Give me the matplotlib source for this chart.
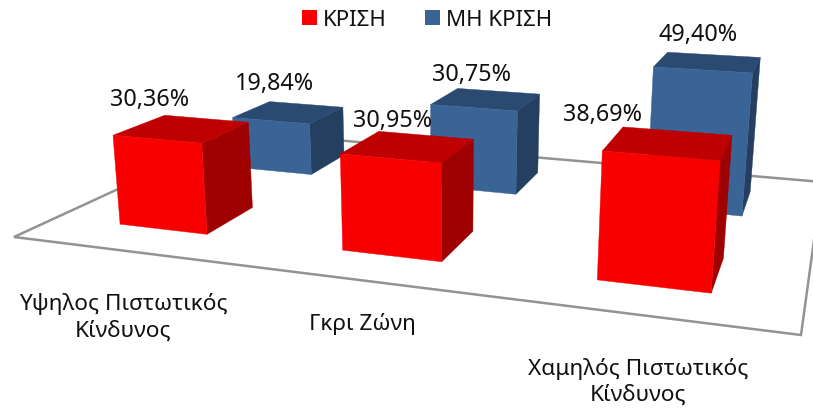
import numpy as np
import matplotlib
matplotlib.use("Agg")
import matplotlib.pyplot as plt
from matplotlib.patches import Patch, Polygon

plt.rcParams["font.family"] = ["Noto Sans", "DejaVu Sans"]

# Data
categories = ["Υψηλος Πιστωτικός\nΚίνδυνος", "Γκρι Ζώνη", "Χαμηλός Πιστωτικός\nΚίνδυνος"]
series_names = ["ΚΡΙΣΗ", "ΜΗ ΚΡΙΣΗ"]
krisi = [30.36, 30.95, 38.69]
mi_krisi = [19.84, 30.75, 49.40]

# Styles: front, top and side shades per series
SHADES = [("#F90000", "#BE0000", "#9F0000"), ("#3A6495", "#2A4A72", "#243F60")]

# Camera: floor homography plus the vanishing point of the vertical direction
FLOOR = [(14, 238), (801, 336), (822, 183), (242, 133)]
VANISH = np.array([442.0, 4287.0, 1.0])
Z_SCALE = -0.00073


def floor_matrix(quad):
    (x0, y0), (x1, y1), (x2, y2), (x3, y3) = quad
    dx1, dx2, sx = x1 - x2, x3 - x2, x0 - x1 + x2 - x3
    dy1, dy2, sy = y1 - y2, y3 - y2, y0 - y1 + y2 - y3
    den = dx1 * dy2 - dx2 * dy1
    g = (sx * dy2 - dx2 * sy) / den
    h = (dx1 * sy - sx * dy1) / den
    return np.array([[x1 - x0 + g * x1, x3 - x0 + h * x3, x0],
                     [y1 - y0 + g * y1, y3 - y0 + h * y3, y0],
                     [g, h, 1.0]])


H = floor_matrix(FLOOR)


def project(u, v, z=0.0):
    p = H @ np.array([u, v, 1.0]) + z * Z_SCALE * VANISH
    return p[0] / p[2], p[1] / p[2]


fig = plt.figure(figsize=(8.13, 4.14), dpi=100)
ax = fig.add_axes([0, 0, 1, 1])
ax.set_xlim(0, 813)
ax.set_ylim(414, 0)
ax.axis("off")

# Floor outline
ax.add_patch(Polygon([project(*c) for c in [(0, 0), (1, 0), (1, 1), (0, 1)]], closed=True,
                     facecolor="white", edgecolor="#939393", linewidth=1.8, zorder=1))

# Footprint centres on the floor, one row per series
CENTERS_U = [[0.1675, 0.4975, 0.828], [0.172, 0.505, 0.833]]
HALF_U = 0.067
CENTERS_V = [0.250, 0.753]
HALF_V = 0.102

# Label offsets from the centre of each bar's top face, in pixels
LABEL_OFFSETS = [[(-33, -30), (-16, -26), (-66, -29)],
                 [(-14, -29), (-15, -25), (-10, -28)]]


def draw_bar(uc, vc, value, shades, zorder):
    u0, u1, v0, v1 = uc - HALF_U, uc + HALF_U, vc - HALF_V, vc + HALF_V
    front, top, side = shades
    faces = [([(u1, v0, 0), (u1, v1, 0), (u1, v1, value), (u1, v0, value)], side),
             ([(u0, v0, value), (u1, v0, value), (u1, v1, value), (u0, v1, value)], top),
             ([(u0, v0, 0), (u1, v0, 0), (u1, v0, value), (u0, v0, value)], front)]
    for corners, colour in faces:
        ax.add_patch(Polygon([project(*c) for c in corners], closed=True, facecolor=colour,
                             edgecolor=colour, linewidth=0.3, zorder=zorder))


def value_text(value):
    return f"{value:.2f}%".replace(".", ",")


# Rear series first so the front series overlaps it
for s, values in [(1, mi_krisi), (0, krisi)]:
    for i, value in enumerate(values):
        draw_bar(CENTERS_U[s][i], CENTERS_V[s], value, SHADES[s], zorder=3 + (1 - s) * 2 + i * 0.1)
        cx, cy = project(CENTERS_U[s][i], CENTERS_V[s], value)
        dx, dy = LABEL_OFFSETS[s][i]
        ax.text(cx + dx, cy + dy, value_text(value), fontsize=16.8, color="#111111",
                ha="center", va="center", zorder=10)

# Category labels
CATEGORY_POS = [(123, 317.5), (362, 324), (638, 382)]
for label, (x, y) in zip(categories, CATEGORY_POS):
    ax.text(x, y, label, fontsize=16.3, color="#111111", ha="center", va="center",
            linespacing=1.32, zorder=10)

# Legend
handles = [Patch(facecolor=SHADES[i][0], label=series_names[i]) for i in range(2)]
ax.legend(handles=handles, ncol=2, loc="center", bbox_to_anchor=(427 / 813, 1 - 20.5 / 414),
          frameon=False, fontsize=16, handlelength=0.68, handleheight=0.68, handletextpad=0.27,
          columnspacing=1.7, labelcolor="#111111")

fig.savefig("out.png", dpi=100)
